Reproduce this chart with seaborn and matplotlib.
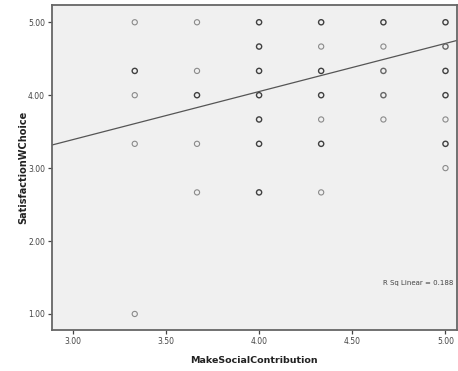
import matplotlib
matplotlib.use("Agg")
import matplotlib.pyplot as plt
import seaborn as sns
import pandas as pd

# Data (unique plotted positions; count ~ darkness of marker)
make_social = [3.333, 3.333, 3.333, 3.333, 3.333,
               3.667, 3.667, 3.667, 3.667, 3.667,
               4.0, 4.0, 4.0, 4.0, 4.0, 4.0, 4.0,
               4.333, 4.333, 4.333, 4.333, 4.333, 4.333, 4.333,
               4.667, 4.667, 4.667, 4.667, 4.667,
               5.0, 5.0, 5.0, 5.0, 5.0, 5.0, 5.0]
satisfaction = [5.0, 4.333, 4.0, 3.333, 1.0,
                5.0, 4.333, 4.0, 3.333, 2.667,
                5.0, 4.667, 4.333, 4.0, 3.667, 3.333, 2.667,
                5.0, 4.667, 4.333, 4.0, 3.667, 3.333, 2.667,
                5.0, 4.667, 4.333, 4.0, 3.667,
                5.0, 4.667, 4.333, 4.0, 3.667, 3.333, 3.0]
counts = [1, 3, 1, 1, 1,
          1, 1, 3, 1, 1,
          3, 3, 3, 3, 3, 3, 3,
          3, 1, 3, 3, 1, 3, 1,
          3, 1, 2, 2, 1,
          3, 2, 3, 3, 1, 3, 1]

fit_intercept = 1.41
fit_slope = 0.66
r_sq_text = "R Sq Linear = 0.188"

x_ticks = [3.0, 3.5, 4.0, 4.5, 5.0]
y_ticks = [1.0, 2.0, 3.0, 4.0, 5.0]

df = pd.DataFrame({"MakeSocialContribution": make_social,
                   "SatisfactionWChoice": satisfaction,
                   "n": counts})

sns.set_style("white")
fig = plt.figure(figsize=(4.58, 3.71), dpi=100)
ax = fig.add_axes([0.1135, 0.1105, 0.884, 0.8747])
ax.set_facecolor("#f0f0f0")

edge_map = {1: "#8a8a8a", 2: "#666666", 3: "#404040"}
for n, sub in df.groupby("n"):
    sns.scatterplot(data=sub, x="MakeSocialContribution", y="SatisfactionWChoice",
                    ax=ax, marker="o", s=14, facecolor="none",
                    edgecolor=edge_map[n], linewidth=1.0 if n > 1 else 0.8,
                    legend=False, zorder=3)

ax.axline((0, fit_intercept), slope=fit_slope, color="#555555", lw=0.9, zorder=2)

ax.set_xlim(2.889, 5.061)
ax.set_ylim(0.78, 5.23)
ax.set_xticks(x_ticks)
ax.set_xticklabels([f"{t:.2f}" for t in x_ticks])
ax.set_yticks(y_ticks)
ax.set_yticklabels([f"{t:.2f}" for t in y_ticks])
ax.tick_params(axis="both", which="both", direction="out", length=3, width=0.9,
               color="#444444", labelsize=5.5, labelcolor="#444444", pad=2,
               bottom=True, left=True, top=False, right=False)
for s in ax.spines.values():
    s.set_color("#666666")
    s.set_linewidth(1.3)

ax.set_xlabel("MakeSocialContribution", fontsize=6.8, fontweight="bold",
              color="#222222", labelpad=7)
ax.set_ylabel("SatisfactionWChoice", fontsize=7, fontweight="bold",
              color="#222222", labelpad=0)

ax.text(5.04, 1.42, r_sq_text, fontsize=5, color="#444444",
        ha="right", va="center")

fig.savefig("out.png", dpi=100)
